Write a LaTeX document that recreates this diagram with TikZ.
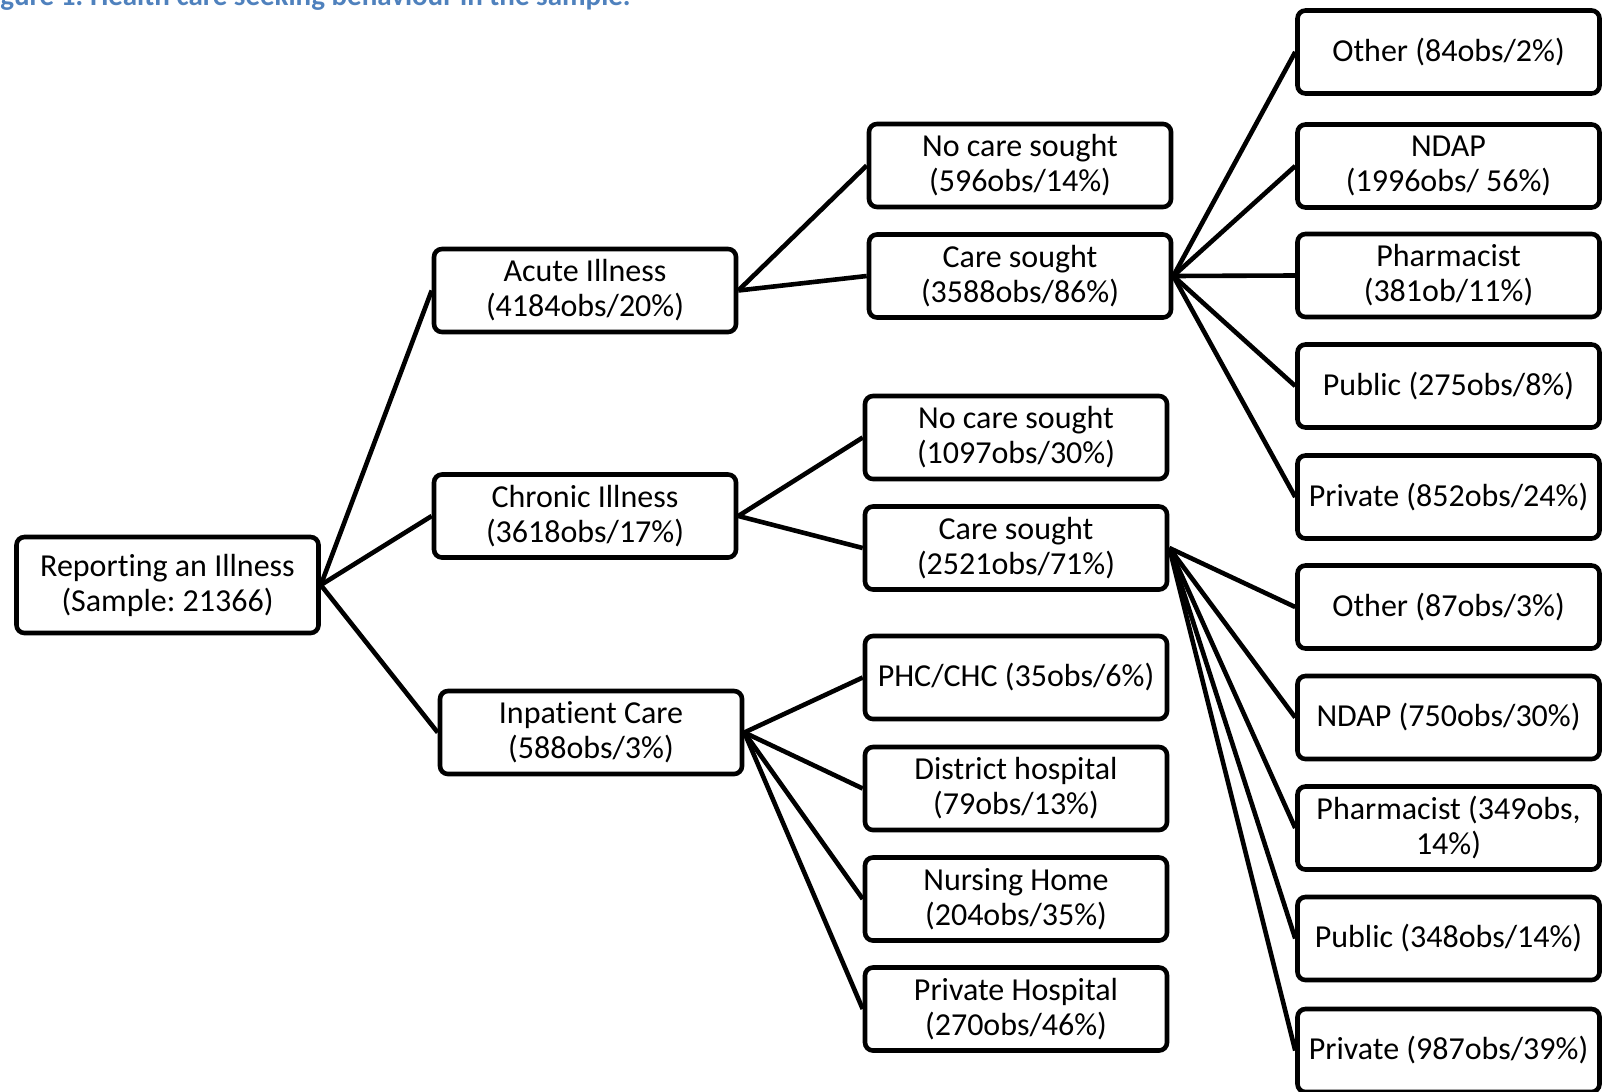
\documentclass[tikz,border=0pt]{standalone}
\usepackage{fontspec}
\setmainfont{Carlito}[Ligatures=NoCommon]
\definecolor{capblue}{RGB}{79,129,189}
\frenchspacing

\begin{document}
\begin{tikzpicture}[x=0.5pt, y=-0.5pt,
    box/.style={draw, line width=2.3pt, rounded corners=4pt, minimum width=151pt,
        minimum height=41.5pt, align=center, inner sep=2pt,
        font=\fontsize{16}{17.5}\selectfont},
    link/.style={line width=2.3pt}]

    % Page size (caption runs off the top-left edge)
    \useasboundingbox (0,0) rectangle (1609,1091);
    \clip (0,0) rectangle (1609,1091);

    % Caption
    \node[anchor=base west, inner sep=0pt, text=capblue,
        font=\fontsize{14.5}{17}\selectfont\bfseries] (caption) at (-20.5,6)
        {Figure 1: Health care seeking behaviour in the sample.};

    % Root
    \node[box, minimum height=48pt] (root) at (167.5,585) {Reporting an Illness\\(Sample: 21366)};

    % Kind of illness
    \node[box] (acute)   at (585,290.5) {Acute Illness\\(4184obs/20\%)};
    \node[box] (chronic) at (585,516)   {Chronic Illness\\(3618obs/17\%)};
    \node[box] (inpat)   at (591,732.5) {Inpatient Care\\(588obs/3\%)};

    % Care sought or not
    \node[box] (nocareA) at (1020,165.5) {No care sought\\(596obs/14\%)};
    \node[box] (careA)   at (1020,276)   {Care sought\\(3588obs/86\%)};
    \node[box] (nocareC) at (1016,437.5) {No care sought\\(1097obs/30\%)};
    \node[box] (careC)   at (1016,548)   {Care sought\\(2521obs/71\%)};

    % Inpatient providers
    \node[box] (phc)      at (1016,677.5) {PHC/CHC (35obs/6\%)};
    \node[box] (district) at (1016,788.5) {District hospital\\(79obs/13\%)};
    \node[box] (nursing)  at (1016,899)   {Nursing Home\\(204obs/35\%)};
    \node[box] (privhosp) at (1016,1009)  {Private Hospital\\(270obs/46\%)};

    % Providers, acute illness
    \node[box] (otherA)  at (1448.5,52)  {Other (84obs/2\%)};
    \node[box] (ndapA)   at (1448.5,166) {NDAP\\(1996obs/ 56\%)};
    \node[box] (pharmA)  at (1448.5,275.5) {Pharmacist\\(381ob/11\%)};
    \node[box] (publicA) at (1448.5,386) {Public (275obs/8\%)};
    \node[box] (privA)   at (1448.5,497) {Private (852obs/24\%)};

    % Providers, chronic illness
    \node[box] (otherC)  at (1448.5,607)  {Other (87obs/3\%)};
    \node[box] (ndapC)   at (1448.5,717.5) {NDAP (750obs/30\%)};
    \node[box] (pharmC)  at (1448.5,828)  {Pharmacist (349obs,\\14\%)};
    \node[box] (publicC) at (1448.5,938.5) {Public (348obs/14\%)};
    \node[box] (privC)   at (1448.5,1050.5) {Private (987obs/39\%)};

    % Links from the root
    \draw[link] (root.east) -- (acute.west);
    \draw[link] (root.east) -- (chronic.west);
    \draw[link] (root.east) -- (inpat.west);

    % Links from each illness
    \draw[link] (acute.east) -- (nocareA.west);
    \draw[link] (acute.east) -- (careA.west);
    \draw[link] (chronic.east) -- (nocareC.west);
    \draw[link] (chronic.east) -- (careC.west);
    \draw[link] (inpat.east) -- (phc.west);
    \draw[link] (inpat.east) -- (district.west);
    \draw[link] (inpat.east) -- (nursing.west);
    \draw[link] (inpat.east) -- (privhosp.west);

    % Links to providers
    \draw[link] (careA.east) -- (otherA.west);
    \draw[link] (careA.east) -- (ndapA.west);
    \draw[link] (careA.east) -- (pharmA.west);
    \draw[link] (careA.east) -- (publicA.west);
    \draw[link] (careA.east) -- (privA.west);
    \draw[link] (careC.east) -- (otherC.west);
    \draw[link] (careC.east) -- (ndapC.west);
    \draw[link] (careC.east) -- (pharmC.west);
    \draw[link] (careC.east) -- (publicC.west);
    \draw[link] (careC.east) -- (privC.west);

\end{tikzpicture}
\end{document}
